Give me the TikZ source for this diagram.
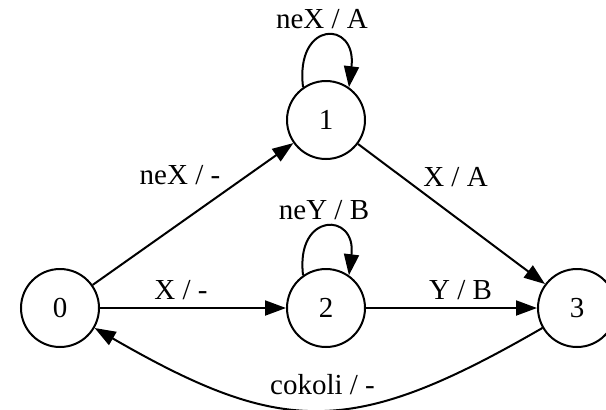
\documentclass[tikz,border=0pt]{standalone}
\usepackage{fontspec}
\setmainfont{Liberation Serif}
\usetikzlibrary{positioning}
\usetikzlibrary{arrows.meta}

\tikzset{
  fsm/.style={circle, draw, line width=1pt, minimum size=39pt, inner sep=0pt, font=\fontsize{14.5}{16}\selectfont},
  trans/.style={-{Triangle[length=10.5pt,width=7.5pt]}, line width=1pt},
  lbl/.style={font=\fontsize{14.5}{16}\selectfont, inner sep=0pt},
}

\begin{document}
\begin{tikzpicture}[x=0.5pt, y=0.5pt]
    \useasboundingbox (0,0) rectangle (606,-409);

    \node[fsm] (n0) at (60,-308) {0};
    \node[fsm, right=93pt of n0] (n2) {2};
    \node[fsm, right=85.5pt of n2] (n3) {3};
    \node[fsm, above=54pt of n2] (n1) {1};

    \draw[trans] (n0) -- (n1) node[lbl, midway, shift={(-13,39)}] {neX / -};
    \draw[trans] (n0) -- (n2) node[lbl, midway, shift={(-12,18)}] {X / -};
    \draw[trans] (n1) -- (n3) node[lbl, midway, shift={(4,37)}] {X / A};
    \draw[trans] (n2) -- (n3) node[lbl, midway, shift={(9,18)}] {Y / B};
    \draw[trans] (n3) to[out=210, in=-30, looseness=1.25] node[lbl, midway, shift={(4,25)}] {cokoli / -} (n0);

    % self loops
    \draw[trans] (n1.125) .. controls +(97:68) and +(83:68) .. (n1.55) node[lbl, midway, shift={(-4,18)}] {neX / A};
    \draw[trans] (n2.125) .. controls +(97:64) and +(83:64) .. (n2.55) node[lbl, midway, shift={(-2,18)}] {neY / B};
\end{tikzpicture}
\end{document}
